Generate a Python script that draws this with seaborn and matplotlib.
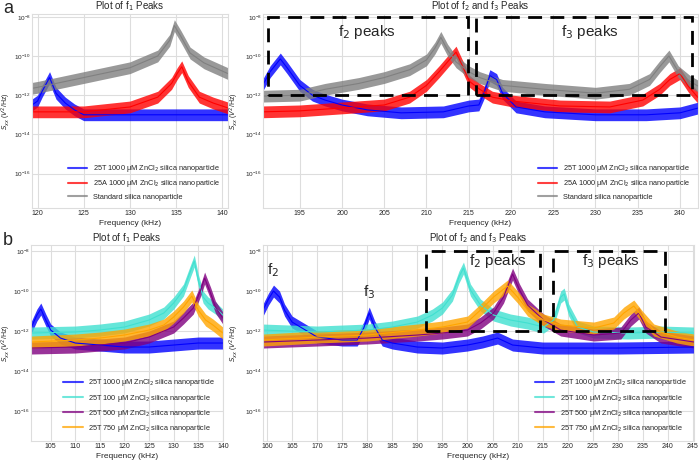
import numpy as np
import pandas as pd
import seaborn as sns
import matplotlib
matplotlib.use("Agg")
import matplotlib.pyplot as plt
from matplotlib.patches import Rectangle

# ---- data (frequency in kHz, log10 of S_xx) ----
# panel a, f1 peaks
a1_blue_khz = [119.4, 120.0, 120.5, 121.3, 122.0, 123.0, 124.0, 125.0, 130.0, 135.0, 140.6]
a1_blue_log = [-12.5, -12.3, -11.8, -11.1, -11.9, -12.4, -12.75, -13.0, -13.0, -13.0, -13.0]
a1_red_khz = [119.4, 125, 130, 133, 134.5, 135.1, 135.6, 136.3, 137.5, 139, 140.6]
a1_red_log = [-12.85, -12.85, -12.6, -12.1, -11.4, -10.9, -10.55, -11.3, -12.1, -12.4, -12.65]
a1_gray_khz = [119.4, 120, 125, 130, 133, 134.3, 134.8, 135.5, 136.5, 138, 140.6]
a1_gray_log = [-11.65, -11.6, -11.1, -10.6, -10.0, -9.2, -8.45, -9.0, -9.85, -10.35, -10.9]

# panel a, f2 and f3 peaks
a2_blue_khz = [190.6, 191.5, 192.7, 193.5, 195, 196.5, 198, 200, 203, 207, 212, 215,
               216.2, 216.8, 217.5, 218.3, 219, 220.6, 224, 230, 236, 240, 242.2]
a2_blue_log = [-11.5, -10.8, -10.15, -10.6, -11.5, -12.0, -12.25, -12.5, -12.75, -12.9, -12.85, -12.55,
               -12.5, -11.9, -11.0, -11.2, -11.9, -12.6, -12.85, -13.0, -13.0, -12.9, -12.65]
a2_red_khz = [190.6, 195, 200, 205, 208, 210, 211.5, 212.5, 213.5, 214.3, 215.1, 216.3, 217.8,
              220.2, 225.8, 231.7, 235.6, 237.6, 238.8, 240.0, 241.0, 242.2]
a2_red_log = [-12.85, -12.8, -12.65, -12.5, -12.1, -11.5, -10.8, -10.3, -9.8, -10.55, -11.3, -11.7, -12.1,
              -12.3, -12.55, -12.6, -12.25, -11.7, -11.2, -10.9, -11.55, -12.15]
a2_gray_khz = [190.6, 195, 198, 202, 205, 208, 210, 211.0, 211.7, 212.5, 213.5, 215, 216.3, 219,
               224, 230, 234, 236.4, 237.6, 238.7, 239.8, 241.2, 242.2]
a2_gray_log = [-12.05, -12.0, -11.7, -11.4, -11.1, -10.7, -10.2, -9.6, -9.05, -9.7, -10.3, -10.8, -11.1, -11.5,
               -11.7, -11.9, -11.7, -11.2, -10.55, -10.0, -10.8, -11.3, -11.55]

# panel b, f1 peaks
b1_blue_khz = [101, 102.2, 103, 104, 105, 107, 110, 115, 120, 125, 130, 135, 140]
b1_blue_log = [-11.85, -11.2, -10.9, -11.45, -11.95, -12.35, -12.6, -12.7, -12.8, -12.8, -12.7, -12.6, -12.6]
b1_turq_khz = [101, 110, 115, 120, 125, 128, 130, 132, 133.5, 134.2, 135, 136, 137, 138.5, 140]
b1_turq_log = [-12.1, -12.05, -11.95, -11.8, -11.45, -11.1, -10.6, -9.95, -8.95, -8.5, -9.45, -10.3, -10.6, -10.85, -11.2]
b1_purp_khz = [101, 110, 120, 125, 130, 132, 134, 135.5, 136.3, 137.5, 138.5, 140]
b1_purp_log = [-12.85, -12.8, -12.6, -12.3, -11.8, -11.35, -10.85, -9.95, -9.35, -10.1, -10.8, -11.35]
b1_oran_khz = [101, 110, 115, 120, 125, 128, 130, 132, 133.7, 135, 136.5, 138, 140]
b1_oran_log = [-12.55, -12.45, -12.35, -12.2, -11.95, -11.7, -11.3, -10.8, -10.25, -10.95, -11.45, -11.7, -12.1]

# panel b, f2 and f3 peaks
b2_blue_khz = [159.2, 160.3, 161.3, 162.5, 163.5, 165, 167, 170, 175, 178, 179.3, 180.4, 181.5, 183,
               185, 190, 195, 200, 203, 206, 209, 215, 230, 245.2]
b2_blue_log = [-10.95, -10.4, -10.0, -10.3, -10.95, -11.55, -11.85, -12.3, -12.45, -12.45, -11.85, -11.1, -11.8, -12.45,
               -12.6, -12.8, -12.85, -12.7, -12.55, -12.35, -12.7, -12.85, -12.85, -12.8]
b2_turq_khz = [159.2, 170, 180, 185, 190, 193, 195, 197, 198.3, 199.2, 200.6, 202.6, 205.2, 208.6, 212,
               215.2, 217.2, 218.6, 219.3, 220.2, 222, 225.2, 232, 238.6, 245.2]
b2_turq_log = [-11.95, -12.05, -11.95, -11.8, -11.55, -11.2, -10.85, -10.2, -9.3, -8.85, -9.95, -10.7, -11.2, -11.45, -11.6,
               -11.8, -11.45, -10.3, -10.15, -10.95, -11.8, -12.05, -12.1, -12.05, -12.1]
b2_purp_khz = [159.2, 170, 180, 190, 195, 200, 202.6, 205.2, 207.2, 209, 210.4, 212, 215.2, 218.6,
               225.2, 230.6, 232.6, 234.2, 235.6, 238.6, 245.2]
b2_purp_log = [-12.55, -12.45, -12.35, -12.2, -12.1, -11.95, -11.6, -11.1, -10.3, -9.15, -9.95, -10.7, -11.45, -11.95,
               -12.2, -12.1, -11.45, -11.1, -11.8, -12.3, -12.55]
b2_oran_khz = [159.2, 170, 180, 190, 195, 200, 202.6, 205.2, 208, 210, 212, 215.2, 218.6, 225.2,
               229.2, 231.2, 233.2, 234.9, 237.2, 241.8, 245.2]
b2_oran_log = [-12.45, -12.3, -12.2, -11.95, -11.8, -11.55, -10.95, -10.3, -9.75, -10.3, -10.95, -11.45, -11.7, -11.85,
               -11.6, -11.1, -10.75, -11.3, -11.95, -12.3, -12.45]

labels_a = ["25T 1000 μM ZnCl$_2$ silica nanoparticle",
            "25A 1000 μM ZnCl$_2$ silica nanoparticle",
            "Standard silica nanoparticle"]
labels_b = ["25T 1000 μM ZnCl$_2$ silica nanoparticle",
            "25T 100 μM ZnCl$_2$ silica nanoparticle",
            "25T 500 μM ZnCl$_2$ silica nanoparticle",
            "25T 750 μM ZnCl$_2$ silica nanoparticle"]

# dashed boxes (kHz ranges) and their labels
a2_boxes = [(191.2, 214.9), (215.9, 241.4)]
a2_box_text = [(203.0, "f$_2$ peaks"), (229.3, "f$_3$ peaks")]
b2_boxes = [(191.8, 214.4), (217.0, 239.4)]
b2_box_text = [(206.0, "f$_2$ peaks"), (228.6, "f$_3$ peaks")]

sns.set_style("whitegrid")
plt.rcParams['font.family'] = ['Liberation Sans', 'DejaVu Sans']
plt.rcParams['mathtext.fontset'] = 'dejavusans'

fig = plt.figure(figsize=(7, 4.61), dpi=100)
ax_a1 = fig.add_axes([0.0457, 0.549, 0.280, 0.421])
ax_a2 = fig.add_axes([0.3757, 0.549, 0.621, 0.421])
ax_b1 = fig.add_axes([0.0443, 0.0434, 0.274, 0.425])
ax_b2 = fig.add_axes([0.3757, 0.0434, 0.6157, 0.425])

NOISE = 0.3  # half height of the noise band, decades


def spectrum(ax, khz, logv, color, label):
    khz = np.array(khz)
    logv = np.array(logv)
    ax.fill_between(khz, 10 ** (logv - NOISE), 10 ** (logv + NOISE),
                    color=color, alpha=0.8, lw=0)
    sns.lineplot(x=khz, y=10 ** logv, ax=ax, color=color, lw=0.8,
                 label=label, sort=False)


def style(ax, xlim, ylim, xticks, title, ylab_x):
    ax.set_yscale('log')
    ax.set_xlim(*xlim)
    ax.set_ylim(*ylim)
    ax.set_xticks(xticks)
    ax.set_yticks([1e-8, 1e-10, 1e-12, 1e-14, 1e-16])
    ax.yaxis.set_minor_locator(matplotlib.ticker.NullLocator())
    ax.tick_params(labelsize=5, pad=1.5, length=0)
    ax.tick_params(axis='y', labelsize=4.6, pad=1)
    ax.set_title(title, fontsize=7, pad=3)
    ax.set_xlabel("Frequency (kHz)", fontsize=6, labelpad=2)
    ax.set_ylabel("$S_{xx}$ ($V^2$/Hz)", fontsize=5)
    ax.yaxis.set_label_coords(ylab_x, 0.5)
    for s in ax.spines.values():
        s.set_color('#dddddd')
    ax.grid(color='#dddddd', lw=0.8)


def legend(ax):
    leg = ax.legend(loc='lower right', fontsize=5.3, frameon=False,
                    handlelength=2.6, labelspacing=0.55, borderaxespad=0.6)
    for h in leg.get_lines():
        h.set_linewidth(1.5)
        h.set_alpha(0.75)


ya = (10 ** -17.75, 10 ** -7.85)
yb = (10 ** -17.5, 10 ** -7.7)
t1 = "Plot of f$_1$ Peaks"
t2 = "Plot of f$_2$ and f$_3$ Peaks"

for ax in (ax_a1, ax_a2, ax_b1, ax_b2):
    ax.set_yscale('log')

spectrum(ax_a1, a1_blue_khz, a1_blue_log, 'blue', labels_a[0])
spectrum(ax_a1, a1_red_khz, a1_red_log, 'red', labels_a[1])
spectrum(ax_a1, a1_gray_khz, a1_gray_log, 'gray', labels_a[2])
style(ax_a1, (119.4, 140.6), ya, range(120, 141, 5), t1, -0.095)
legend(ax_a1)

spectrum(ax_a2, a2_blue_khz, a2_blue_log, 'blue', labels_a[0])
spectrum(ax_a2, a2_red_khz, a2_red_log, 'red', labels_a[1])
spectrum(ax_a2, a2_gray_khz, a2_gray_log, 'gray', labels_a[2])
style(ax_a2, (190.65, 242.1), ya, range(195, 241, 5), t2, -0.05)
legend(ax_a2)

spectrum(ax_b1, b1_blue_khz, b1_blue_log, 'blue', labels_b[0])
spectrum(ax_b1, b1_turq_khz, b1_turq_log, 'turquoise', labels_b[1])
spectrum(ax_b1, b1_purp_khz, b1_purp_log, 'purple', labels_b[2])
spectrum(ax_b1, b1_oran_khz, b1_oran_log, 'orange', labels_b[3])
style(ax_b1, (101, 140), yb, range(105, 141, 5), t1, -0.093)
legend(ax_b1)

spectrum(ax_b2, b2_blue_khz, b2_blue_log, 'blue', labels_b[0])
spectrum(ax_b2, b2_turq_khz, b2_turq_log, 'turquoise', labels_b[1])
spectrum(ax_b2, b2_purp_khz, b2_purp_log, 'purple', labels_b[2])
spectrum(ax_b2, b2_oran_khz, b2_oran_log, 'orange', labels_b[3])
style(ax_b2, (159.2, 245.2), yb, range(160, 246, 5), t2, -0.05)
legend(ax_b2)

# dashed boxes around the peak groups
for ax, boxes in ((ax_a2, a2_boxes), (ax_b2, b2_boxes)):
    for x0, x1 in boxes:
        ax.add_patch(Rectangle((x0, 1e-12), x1 - x0, 1e-8 - 1e-12, fill=False,
                               ec='black', lw=2, ls=(0, (5, 3)), zorder=5))
for xc, txt in a2_box_text:
    ax_a2.text(xc, 10 ** -8.8, txt, fontsize=11, ha='center', va='center', zorder=6)
for xc, txt in b2_box_text:
    ax_b2.text(xc, 10 ** -8.5, txt, fontsize=11, ha='center', va='center', zorder=6)

ax_b2.text(161.3, 10 ** -9.4, "f$_2$", fontsize=11, ha='center', va='bottom')
ax_b2.text(180.4, 10 ** -10.5, "f$_3$", fontsize=11, ha='center', va='bottom')

fig.text(0.004, 1.0, "a", fontsize=13, va='top')
fig.text(0.004, 0.497, "b", fontsize=13, va='top')

fig.savefig("out.png", dpi=100)
